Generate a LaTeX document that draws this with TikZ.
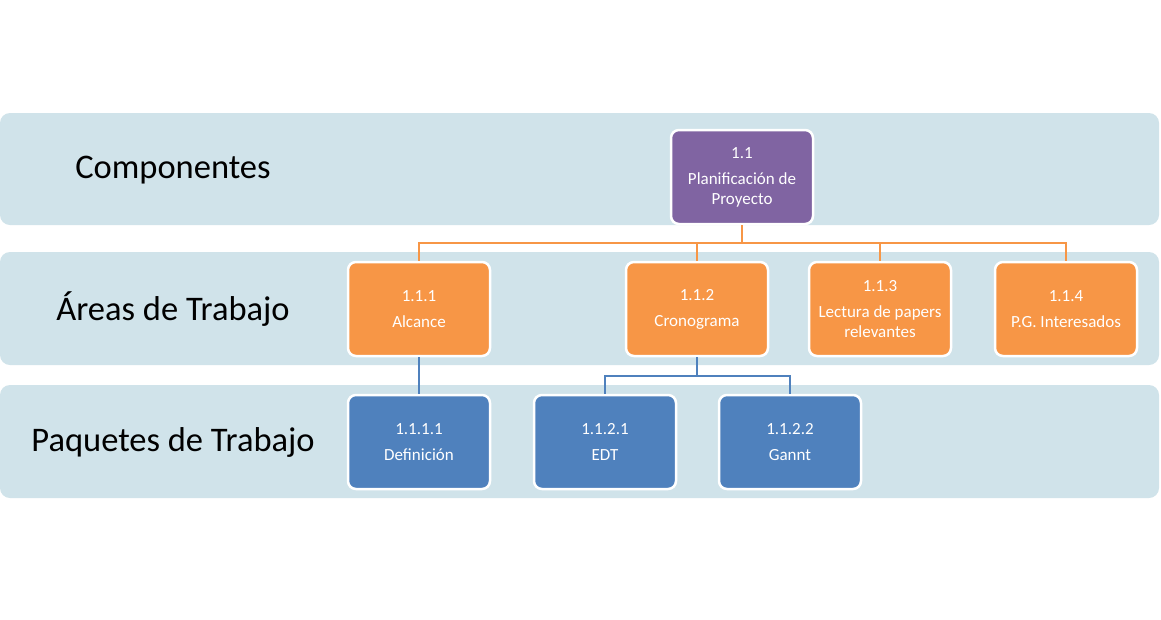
\documentclass[tikz,border=0pt]{standalone}
\usepackage{fontspec}
\setmainfont{Carlito}
\definecolor{band}{HTML}{D0E3EA}
\definecolor{purp}{HTML}{8064A2}
\definecolor{orng}{HTML}{F79646}
\definecolor{blu}{HTML}{4F81BD}
\begin{document}
\begin{tikzpicture}[x=1pt,y=-1pt,
  bandbox/.style={fill=band, rounded corners=10pt},
  lvl/.style={font=\fontsize{34.5}{40}\selectfont, text=black},
  wbox/.style={draw=white, line width=2.5pt, rounded corners=8pt, minimum width=142pt, minimum height=94pt, inner sep=2pt, text=white, align=center, font=\fontsize{17}{20}\selectfont},
  pbox/.style={wbox, fill=purp},
  obox/.style={wbox, fill=orng},
  bbox/.style={wbox, fill=blu},
  oline/.style={draw=orng, line width=1.5pt},
  bline/.style={draw=blu, line width=1.5pt}]
\useasboundingbox (0,0) rectangle (1161,619);
\fill[white] (0,0) rectangle (1161,619);
\fill[bandbox] (0,113) rectangle (1159,225);
\fill[bandbox] (0,252) rectangle (1159,365);
\fill[bandbox] (0,385) rectangle (1159,498);
\node[lvl] (l1) at (173,170) {Componentes};
\node[lvl] (l2) at (173,309) {Áreas de Trabajo};
\node[lvl] (l3) at (173,442) {Paquetes de Trabajo};
\coordinate (oj) at (742,243);
\coordinate (bj) at (697,376);
\node[pbox] (n1) at (742,177) {1.1\\[6pt]Planificación de\\Proyecto};
\node[obox] (n11) at (419,309) {1.1.1\\[6pt]Alcance};
\node[obox] (n12) at (697,309) {1.1.2\\[6pt]Cronograma};
\node[obox] (n13) at (880,309) {1.1.3\\[6pt]Lectura de papers\\relevantes};
\node[obox] (n14) at (1066,309) {1.1.4\\[6pt]P.G. Interesados};
\node[bbox] (n111) at (419,442) {1.1.1.1\\[6pt]Definición};
\node[bbox] (n121) at (605,442) {1.1.2.1\\[6pt]EDT};
\node[bbox] (n122) at (790,442) {1.1.2.2\\[6pt]Gannt};
\draw[oline] (n1.south) -- (oj);
\draw[oline] (n11.north) |- (oj);
\draw[oline] (n14.north) |- (oj);
\draw[oline] (n12.north) -- (n12.north |- oj);
\draw[oline] (n13.north) -- (n13.north |- oj);
\draw[bline] (n11.south) -- (n111.north);
\draw[bline] (n12.south) -- (bj);
\draw[bline] (n121.north) |- (bj);
\draw[bline] (n122.north) |- (bj);
\end{tikzpicture}
\end{document}
